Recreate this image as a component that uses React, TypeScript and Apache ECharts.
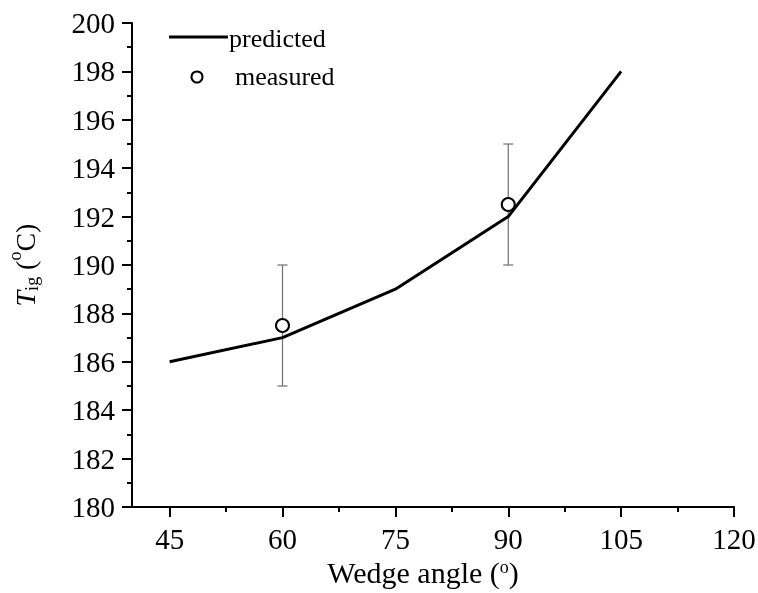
import React, { useEffect, useRef } from "react";
import * as echarts from "echarts";

const angles = [45, 60, 75, 90, 105];
const predicted = [186, 187, 189, 192, 198];
const measuredAngles = [60, 90];
const measured = [187.5, 192.5];
const errLow = [185, 190];
const errHigh = [190, 195];
const xMajorTicks = [45, 60, 75, 90, 105, 120];
const xMinorTicks = [52.5, 67.5, 82.5, 97.5, 112.5];

const FONT = '"Liberation Serif", "Times New Roman", serif';

export default function App() {
  const ref = useRef<HTMLDivElement>(null);
  useEffect(() => {
    const chart = echarts.init(ref.current!, null, { renderer: "svg" });
    const axisLineStyle = { color: "#000", width: 2 };
    chart.setOption({
      animation: false,
      grid: { left: 132, right: 24, top: 23, bottom: 86, containLabel: false, outerBoundsMode: "none" },
      xAxis: [
        {
          type: "value",
          min: 40,
          max: 120,
          axisLine: { show: true, lineStyle: axisLineStyle },
          axisTick: { show: true, customValues: xMajorTicks, length: 10, lineStyle: axisLineStyle },
          axisLabel: { customValues: xMajorTicks, fontSize: 29, fontFamily: FONT, color: "#000", margin: 17 },
          splitLine: { show: false },
          name: "Wedge angle ({sup|o})",
          nameLocation: "middle",
          nameGap: 44,
          nameTextStyle: {
            fontSize: 30,
            fontFamily: FONT,
            color: "#000",
            padding: [0, 20, 0, 0],
            rich: { sup: { fontSize: 18, fontFamily: FONT, color: "#000", padding: [0, 0, 12, 0] } },
          },
        },
        {
          type: "value",
          min: 40,
          max: 120,
          position: "bottom",
          axisLine: { show: false },
          axisTick: { show: true, customValues: xMinorTicks, length: 5, lineStyle: axisLineStyle },
          axisLabel: { show: false },
          splitLine: { show: false },
        },
      ],
      yAxis: {
        type: "value",
        min: 180,
        max: 200,
        interval: 2,
        axisLine: { show: true, lineStyle: axisLineStyle },
        axisTick: { show: true, length: 10, lineStyle: axisLineStyle },
        minorTick: { show: true, splitNumber: 2, length: 5, lineStyle: axisLineStyle },
        axisLabel: { fontSize: 29, fontFamily: FONT, color: "#000", margin: 17 },
        splitLine: { show: false },
        name: "{it|T}{sub|ig} ({sup|o}C)",
        nameLocation: "middle",
        nameRotate: 90,
        nameGap: 88,
        nameTextStyle: {
          fontSize: 28,
          fontFamily: FONT,
          color: "#000",
          rich: {
            it: { fontSize: 28, fontFamily: FONT, fontStyle: "italic", color: "#000" },
            sub: { fontSize: 18, fontFamily: FONT, color: "#000", padding: [14, 0, 0, 0] },
            sup: { fontSize: 18, fontFamily: FONT, color: "#000", padding: [0, 0, 20, 0] },
          },
        },
      },
      series: [
        {
          type: "custom",
          name: "error",
          z: 1,
          data: measuredAngles.map((a, i) => [a, errLow[i], errHigh[i]]),
          encode: { x: 0, y: [1, 2] },
          renderItem: (params: any, api: any) => {
            const x = api.value(0);
            const lo = api.coord([x, api.value(1)]);
            const hi = api.coord([x, api.value(2)]);
            const hw = 5;
            const style = { stroke: "#707070", lineWidth: 1.2 };
            return {
              type: "group",
              children: [
                { type: "line", shape: { x1: lo[0], y1: lo[1], x2: hi[0], y2: hi[1] }, style },
                { type: "line", shape: { x1: lo[0] - hw, y1: lo[1], x2: lo[0] + hw, y2: lo[1] }, style },
                { type: "line", shape: { x1: hi[0] - hw, y1: hi[1], x2: hi[0] + hw, y2: hi[1] }, style },
              ],
            };
          },
        },
        {
          type: "line",
          name: "predicted",
          z: 2,
          symbol: "none",
          data: angles.map((a, i) => [a, predicted[i]]),
          lineStyle: { color: "#000", width: 3 },
        },
        {
          type: "scatter",
          name: "measured",
          z: 3,
          symbol: "circle",
          symbolSize: 13,
          data: measuredAngles.map((a, i) => [a, measured[i]]),
          itemStyle: { color: "#fff", borderColor: "#000", borderWidth: 2, opacity: 1 },
        },
      ],
      graphic: [
        { type: "line", shape: { x1: 169, y1: 37, x2: 228, y2: 37 }, style: { stroke: "#000", lineWidth: 3 } },
        { type: "circle", shape: { cx: 197, cy: 77, r: 5.5 }, style: { fill: "#fff", stroke: "#000", lineWidth: 2 } },
        {
          type: "text",
          x: 229,
          y: 38,
          style: { text: "predicted", fontSize: 26, fontFamily: FONT, fill: "#000", verticalAlign: "middle" },
        },
        {
          type: "text",
          x: 235,
          y: 76,
          style: { text: "measured", fontSize: 26, fontFamily: FONT, fill: "#000", verticalAlign: "middle" },
        },
      ],
    });
    return () => chart.dispose();
  }, []);
  return <div ref={ref} style={{ position: "fixed", left: 0, top: 0, width: 758, height: 593 }} />;
}
